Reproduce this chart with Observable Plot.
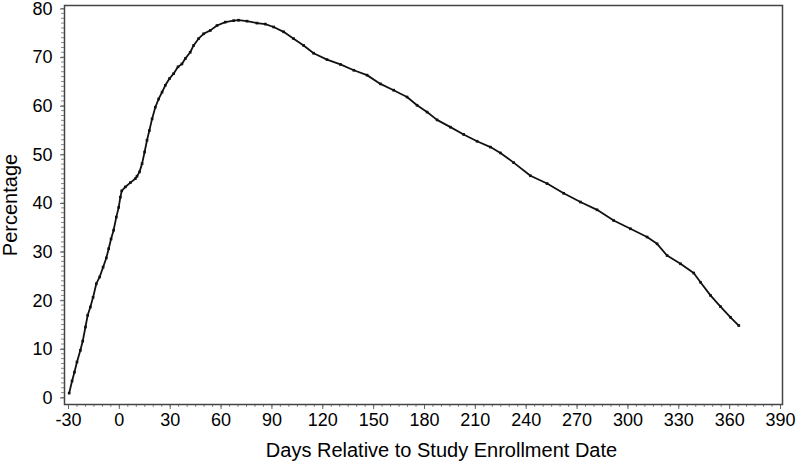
<!DOCTYPE html>
<html>
<head>
<meta charset="utf-8">
<script src="https://cdn.jsdelivr.net/npm/d3@7"></script>
<script src="https://cdn.jsdelivr.net/npm/@observablehq/plot@0.6"></script>
<style>
  html, body { margin: 0; padding: 0; background: #fff; }
  #chart svg { display: block; overflow: visible; }
</style>
</head>
<body>
<div id="chart"></div>
<script>
const days = [
  -29.6, -27.9, -26.5, -25.0, -23.0, -21.6, -20.0, -18.7, -17.1, -15.5,
  -13.6, -11.6, -9.6, -7.7, -6.3, -4.9, -3.4, -1.8, -0.4, 0.6,
  1.4, 3.5, 6.5, 9.4, 10.4, 11.9, 13.4, 14.9, 16.3, 17.7,
  19.3, 21.2, 23.2, 25.2, 27.1, 29.6, 32.0, 34.6, 36.9, 38.9,
  41.8, 43.8, 46.7, 49.7, 53.7, 57.6, 62.5, 67.4, 70.3, 75.3,
  81.2, 86.1, 91.0, 96.9, 102.8, 108.7, 114.6, 122.5, 130.4, 138.3,
  146.1, 154.0, 161.8, 169.7, 175.6, 181.5, 187.4, 195.3, 203.1, 211.0,
  218.9, 224.8, 232.6, 242.5, 252.3, 262.1, 272.0, 281.8, 291.6, 301.5,
  311.3, 317.2, 323.1, 331.0, 338.8, 342.8, 348.7, 354.6, 360.5, 365.4
];
const percentage = [
  0.9, 3.4, 5.2, 7.3, 9.7, 11.6, 14.5, 16.9, 18.6, 20.6,
  23.4, 24.8, 26.8, 28.7, 30.6, 32.6, 34.4, 37.1, 39.1, 41.2,
  42.5, 43.3, 44.2, 45.0, 45.5, 46.4, 48.1, 50.5, 52.9, 54.9,
  57.3, 59.7, 61.4, 62.8, 64.2, 65.6, 66.6, 68.0, 68.6, 69.7,
  71.0, 72.4, 73.8, 74.8, 75.5, 76.5, 77.2, 77.5, 77.6, 77.4,
  77.0, 76.8, 76.2, 75.2, 73.8, 72.4, 70.8, 69.5, 68.5, 67.3,
  66.3, 64.5, 63.2, 61.8, 60.1, 58.7, 57.1, 55.6, 54.1, 52.7,
  51.5, 50.3, 48.3, 45.6, 44.0, 42.0, 40.2, 38.6, 36.4, 34.7,
  33.0, 31.6, 29.2, 27.5, 25.6, 23.7, 21.0, 18.7, 16.5, 14.8
];
const xTicks = d3.range(-30, 391, 30);
const xMinorTicks = d3.range(-30, 391, 5);
const yTicks = d3.range(0, 81, 10);
const yMinorTicks = d3.range(0, 81, 1);
const xTitle = "Days Relative to Study Enrollment Date";
const yTitle = "Percentage";

const data = days.map((d, i) => ({day: d, pct: percentage[i]}));

const chart = Plot.plot({
  width: 797,
  height: 464,
  marginLeft: 64,
  marginRight: 15,
  marginTop: 5,
  marginBottom: 60,
  style: {fontFamily: "'Liberation Sans', Arial, sans-serif", fontSize: "18px", color: "#000", background: "#fff", overflow: "visible"},
  x: {domain: [-32.36, 391.18]},
  y: {domain: [-1.44, 80.62]},
  marks: [
    Plot.axisX(xMinorTicks, {tickSize: 3, text: null, label: null, stroke: "#888"}),
    Plot.axisX(xTicks, {tickSize: 5, tickPadding: 4, stroke: "#666", tickFormat: d => String(d), fontSize: 18, label: null}),
    Plot.text([xTitle], {text: d => d, frameAnchor: "bottom", lineAnchor: "bottom", dy: 52, dx: 18, fontSize: 20, fill: "#000", clip: false}),
    Plot.axisY(yMinorTicks, {tickSize: 3, text: null, label: null, stroke: "#888"}),
    Plot.axisY(yTicks, {tickSize: 4, tickPadding: 8, dy: 0.5, stroke: "#666", tickFormat: d => String(d), fontSize: 18, label: null}),
    Plot.axisY({ticks: [], label: yTitle, labelAnchor: "center", labelArrow: "none", labelOffset: 62, fontSize: 20}),
    Plot.frame({stroke: "#444", strokeWidth: 1.5}),
    Plot.line(data, {x: "day", y: "pct", stroke: "#111", strokeWidth: 1.8}),
    Plot.dot(data, {x: "day", y: "pct", r: 1.5, fill: "#111", symbol: "square"})
  ]
});
document.getElementById("chart").appendChild(chart);
</script>
</body>
</html>
